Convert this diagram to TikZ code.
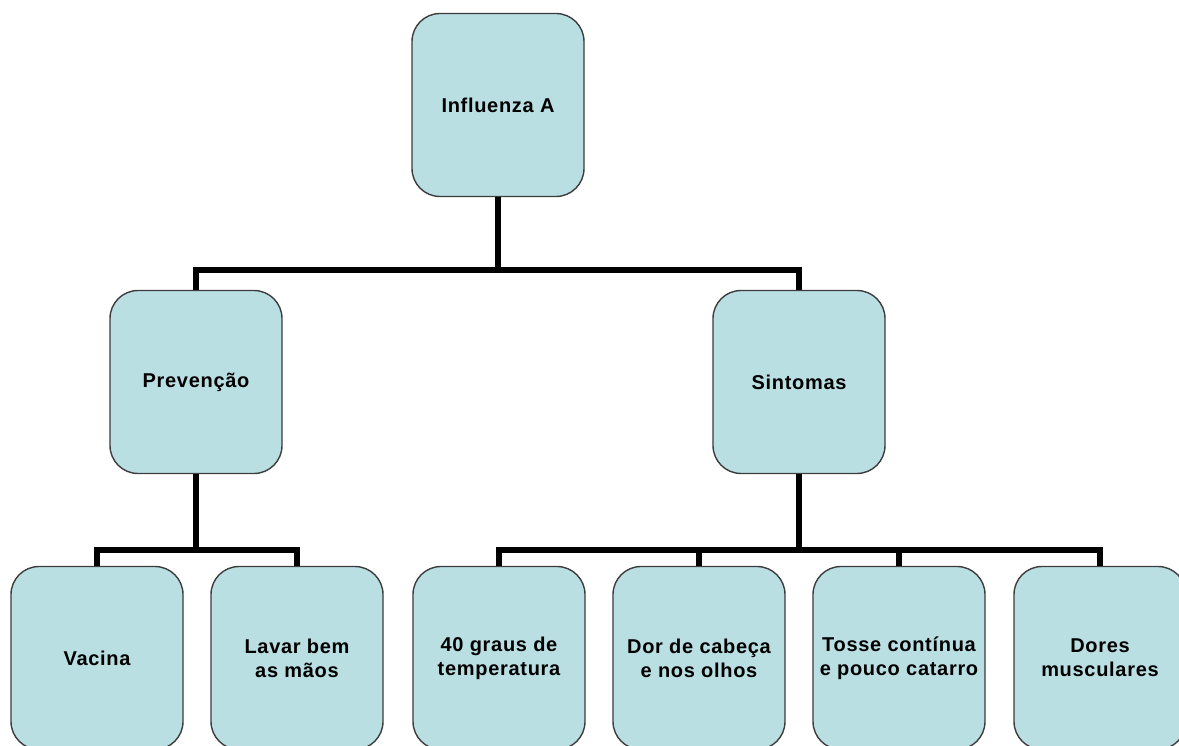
\documentclass[tikz,border=0pt]{standalone}
\usepackage{fontspec}
\setmainfont{Liberation Sans}[LetterSpace=3.5]
\definecolor{boxfill}{HTML}{B9DFE3}
\definecolor{boxline}{HTML}{3C3C3C}
\tikzset{
  box/.style={draw=boxline,line width=1.4pt,fill=boxfill,rounded corners=28pt,
    minimum width=172pt,minimum height=183pt,align=center,
    font=\fontsize{20}{24}\selectfont\bfseries},
  conn/.style={line width=5.5pt,black}
}

\begin{document}
\begin{tikzpicture}[x=1pt,y=1pt]
      \useasboundingbox (0,0) rectangle (1179,-746);
      \node[box] (Flu) at (498,-105) {Influenza A};
      \node[box] (Prev) at (196,-382) {Prevenção};
      \node[box] (Sint) at (799,-382) {Sintomas};
      \node[box] (Vac) at (97,-658) {Vacina};
      \node[box] (Lavar) at (297,-658) {Lavar bem\\as mãos};
      \node[box] (Temp) at (499,-658) {40 graus de\\temperatura};
      \node[box] (Dor) at (699,-658) {Dor de cabeça\\e nos olhos};
      \node[box] (Tosse) at (899,-658) {Tosse contínua\\e pouco catarro};
      \node[box] (Dores) at (1100,-658) {Dores\\musculares};
      \coordinate (hubA) at (498,-270);
      \coordinate (hubP) at (196,-550);
      \coordinate (hubS) at (799,-550);
      \draw[conn] (Flu) -- (hubA);
      \draw[conn] (Prev.north) |- (hubA) -| (Sint.north);
      \draw[conn] (Prev) -- (hubP);
      \draw[conn] (Vac.north) |- (hubP) -| (Lavar.north);
      \draw[conn] (Sint) -- (hubS);
      \draw[conn] (Temp.north) |- (hubS) -| (Dores.north);
      \draw[conn] (Dor.north) -- (Dor.north |- hubS);
      \draw[conn] (Tosse.north) -- (Tosse.north |- hubS);
    \end{tikzpicture}
\end{document}
